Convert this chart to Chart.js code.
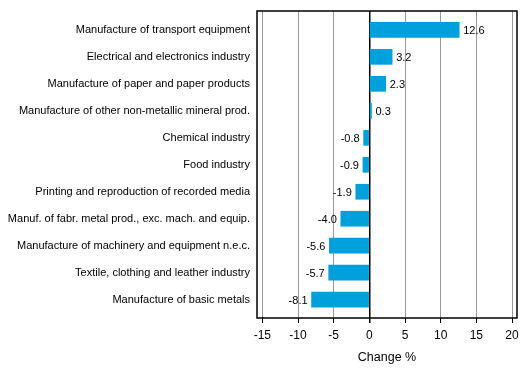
<!DOCTYPE html>
<html>
<head>
<meta charset="utf-8">
<script src="https://cdn.jsdelivr.net/npm/chart.js@4/dist/chart.umd.min.js"></script>
<style>
html,body{margin:0;padding:0;background:#fff;}
#wrap{width:529px;height:377px;}
</style>
</head>
<body>
<div id="wrap"><canvas id="c" width="529" height="377"></canvas></div>
<script>
const categories = [
  "Manufacture of transport equipment",
  "Electrical and electronics industry",
  "Manufacture of paper and paper products",
  "Manufacture of other non-metallic mineral prod.",
  "Chemical industry",
  "Food industry",
  "Printing and reproduction of recorded media",
  "Manuf. of fabr. metal prod., exc. mach. and equip.",
  "Manufacture of machinery and equipment n.e.c.",
  "Textile, clothing and leather industry",
  "Manufacture of basic metals"
];
const changeValues = [12.6, 3.2, 2.3, 0.3, -0.8, -0.9, -1.9, -4.0, -5.6, -5.7, -8.1];
const xTickValues = [-15, -10, -5, 0, 5, 10, 15, 20];
const axisTitle = "Change %";

const FONT = "'Liberation Sans', Arial, sans-serif";

const boxPlugin = {
  id: 'box',
  afterDraw(chart) {
    const a = chart.chartArea, ctx = chart.ctx;
    ctx.save();
    ctx.strokeStyle = '#000';
    ctx.lineWidth = 1.5;
    ctx.strokeRect(a.left, a.top, a.right - a.left, a.bottom - a.top);
    ctx.restore();
  }
};

const labelPlugin = {
  id: 'vals',
  afterDatasetsDraw(chart) {
    const ctx = chart.ctx;
    const meta = chart.getDatasetMeta(0);
    ctx.save();
    ctx.font = "11px " + FONT;
    ctx.fillStyle = '#000';
    ctx.textBaseline = 'middle';
    meta.data.forEach((bar, i) => {
      const v = changeValues[i];
      const t = v.toFixed(1);
      if (v >= 0) { ctx.textAlign = 'left'; ctx.fillText(t, bar.x + 4, bar.y + 1); }
      else { ctx.textAlign = 'right'; ctx.fillText(t, bar.x - 4, bar.y + 1); }
    });
    ctx.restore();
  }
};

new Chart(document.getElementById('c'), {
  type: 'bar',
  data: {
    datasets: [{
      data: changeValues.map((v, i) => ({ x: v, y: i })),
      backgroundColor: '#00A0DC',
      borderWidth: 0,
      barThickness: 15
    }]
  },
  options: {
    indexAxis: 'y',
    responsive: false,
    animation: false,
    layout: { padding: { top: 11, right: 12, left: 0, bottom: 0 } },
    plugins: { legend: { display: false }, tooltip: { enabled: false } },
    scales: {
      x: {
        type: 'linear',
        min: -15.75,
        max: 20.7,
        afterBuildTicks(scale) { scale.ticks = xTickValues.map(v => ({ value: v })); },
        afterFit(scale) { scale.height = 59; },
        border: { display: false },
        grid: {
          color: ctx => (ctx.tick && ctx.tick.value === 0) ? '#000' : '#999',
          lineWidth: ctx => (ctx.tick && ctx.tick.value === 0) ? 1.5 : 1,
          tickColor: '#000',
          tickLength: 5,
          drawTicks: true
        },
        ticks: {
          color: '#000',
          font: { family: FONT, size: 12 },
          padding: 5,
          maxRotation: 0,
          callback: v => String(v)
        },
        title: {
          display: true,
          text: axisTitle,
          color: '#000',
          font: { family: FONT, size: 12.5 },
          padding: { top: 6, bottom: 12 }
        }
      },
      y: {
        type: 'linear',
        offset: false,
        reverse: true,
        min: -0.7,
        max: 10.68,
        afterBuildTicks(scale) { scale.ticks = categories.map((c, i) => ({ value: i })); },
        afterFit(scale) { scale.width = 257; scale.paddingTop = 0; scale.paddingBottom = 0; },
        border: { display: false },
        grid: { display: false, drawTicks: false },
        ticks: {
          color: '#000',
          font: { family: FONT, size: 11 },
          padding: 7,
          callback: v => categories[v]
        }
      }
    }
  },
  plugins: [labelPlugin, boxPlugin]
});
</script>
</body>
</html>
